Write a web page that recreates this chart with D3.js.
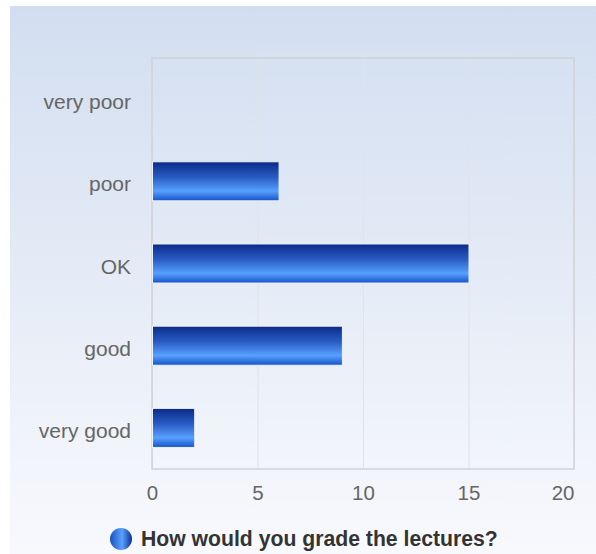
<!DOCTYPE html>
<html>
<head>
<meta charset="utf-8">
<script src="https://cdn.jsdelivr.net/npm/d3@7"></script>
<style>
  body { margin: 0; background: #fff; }
  svg { display: block; font-family: "Liberation Sans", Arial, sans-serif; }
</style>
</head>
<body>
<svg id="chart" width="596" height="554"></svg>
<script>
// Data
const categories = ["very poor", "poor", "OK", "good", "very good"];
const values = [0, 6, 15, 9, 2];
const xTicks = [0, 5, 10, 15, 20];
const seriesName = "How would you grade the lectures?";

const width = 596, height = 554;
const plot = { left: 152, top: 58, right: 574, bottom: 469 };
const labelFont = "'Liberation Sans', Arial, sans-serif";

const svg = d3.select("#chart");
const defs = svg.append("defs");

// Background gradient
const bg = defs.append("linearGradient")
    .attr("id", "bg-grad")
    .attr("x1", 0).attr("y1", 0).attr("x2", 0).attr("y2", 1);
bg.append("stop").attr("offset", "0%").attr("stop-color", "#d2def0");
bg.append("stop").attr("offset", "100%").attr("stop-color", "#f8f9fd");

// Bar gradient
const barGrad = defs.append("linearGradient")
    .attr("id", "bar-grad")
    .attr("x1", 0).attr("y1", 0).attr("x2", 0).attr("y2", 1);
barGrad.append("stop").attr("offset", "0%").attr("stop-color", "#0a2a88");
barGrad.append("stop").attr("offset", "40%").attr("stop-color", "#2a5cc4");
barGrad.append("stop").attr("offset", "75%").attr("stop-color", "#56a0ff");
barGrad.append("stop").attr("offset", "100%").attr("stop-color", "#1752c8");

// Legend marker gradient (horizontal)
const legGrad = defs.append("linearGradient")
    .attr("id", "leg-grad")
    .attr("x1", 0).attr("y1", 0).attr("x2", 1).attr("y2", 0);
legGrad.append("stop").attr("offset", "0%").attr("stop-color", "#1a4fbf");
legGrad.append("stop").attr("offset", "55%").attr("stop-color", "#5aa2ff");
legGrad.append("stop").attr("offset", "100%").attr("stop-color", "#0d2f95");

svg.append("rect")
    .attr("x", 10).attr("y", 6)
    .attr("width", width - 10).attr("height", height - 6)
    .attr("fill", "url(#bg-grad)");

// Scales
const xScale = d3.scaleLinear().domain([0, 20]).range([plot.left, plot.right]);
const yScale = d3.scaleBand().domain(categories).range([plot.top, plot.bottom])
    .paddingInner(0.525).paddingOuter(0.2625);

// Gridlines
svg.append("g")
    .attr("class", "grid")
    .attr("transform", `translate(0, ${plot.bottom})`)
    .call(d3.axisBottom(xScale).tickValues(xTicks).tickSize(-(plot.bottom - plot.top)).tickFormat(""))
    .call(g => g.select(".domain").remove())
    .selectAll("line")
    .attr("stroke", "#e0e3e8")
    .attr("stroke-width", 1);

// Plot border
svg.append("rect")
    .attr("x", plot.left).attr("y", plot.top)
    .attr("width", plot.right - plot.left).attr("height", plot.bottom - plot.top)
    .attr("fill", "none")
    .attr("stroke", "#cfd2d6")
    .attr("stroke-width", 1.5);

// Bars
svg.selectAll(".bar")
    .data(categories.map((c, i) => ({ cat: c, value: values[i] })).filter(d => d.value > 0))
    .enter().append("rect")
    .attr("class", "bar")
    .attr("x", xScale(0) + 0.5)
    .attr("y", d => yScale(d.cat))
    .attr("width", d => xScale(d.value) - xScale(0))
    .attr("height", yScale.bandwidth())
    .attr("fill", "url(#bar-grad)")
    .attr("stroke", "#eef3fb")
    .attr("stroke-width", 1);

// Y axis labels
const yAxis = svg.append("g")
    .attr("transform", `translate(${plot.left}, 0)`)
    .call(d3.axisLeft(yScale).tickSize(0).tickPadding(21));
yAxis.select(".domain").remove();
yAxis.selectAll("text")
    .attr("dy", "10px")
    .attr("fill", "#666")
    .style("font-size", "21px")
    .style("font-family", labelFont);

// X axis labels
const xAxis = svg.append("g")
    .attr("transform", `translate(0, ${plot.bottom})`)
    .call(d3.axisBottom(xScale).tickValues(xTicks).tickSize(0).tickPadding(0));
xAxis.select(".domain").remove();
xAxis.selectAll("text")
    .attr("y", 31)
    .attr("dy", null)
    .attr("fill", "#666")
    .style("font-size", "20.5px")
    .style("font-family", labelFont);
// last label is kept inside the plot edge
xAxis.selectAll(".tick").filter(d => d === xTicks[xTicks.length - 1])
    .select("text").attr("text-anchor", "end").attr("x", 0);

// Legend
const legend = svg.append("g").attr("transform", "translate(121, 539)");
legend.append("circle")
    .attr("r", 11)
    .attr("fill", "url(#leg-grad)");
legend.append("text")
    .attr("x", 20)
    .attr("y", 7)
    .attr("fill", "#333")
    .style("font-size", "21.2px")
    .style("font-weight", "bold")
    .style("font-family", labelFont)
    .text(seriesName);
</script>
</body>
</html>
